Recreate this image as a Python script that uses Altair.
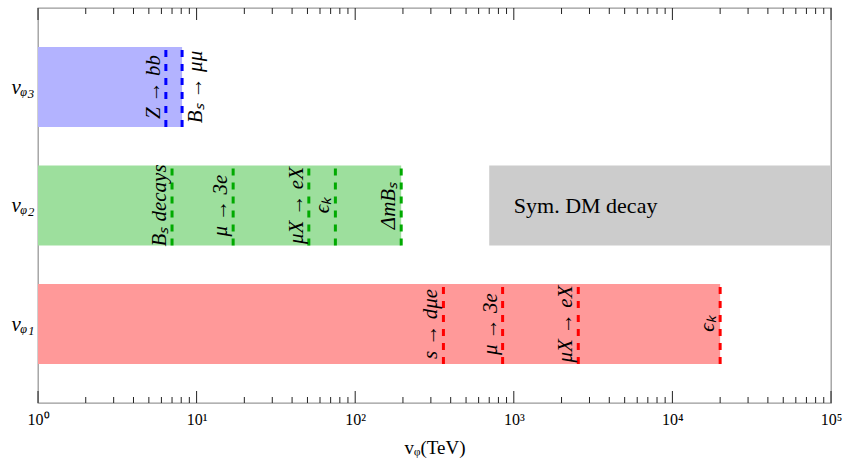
import altair as alt
import pandas as pd

# --- data -------------------------------------------------------------------
# vev rows (y position) and their axis labels
ROWS = [1, 2, 3]
ROW_LABELS = ["vᵩ₁", "vᵩ₂", "vᵩ₃"]

# excluded ranges of each vev (TeV)
band_key = ["phi3", "phi2", "phi1", "dm"]
band_row = [3, 2, 1, 2]
band_lo = [1, 1, 1, 700]
band_hi = [8.1, 195, 20000, 100000]

# individual constraints: row, bound (TeV), label, which side of the line
line_key = ["phi3", "phi3",
            "phi2", "phi2", "phi2", "phi2", "phi2",
            "phi1", "phi1", "phi1", "phi1"]
line_row = [3, 3, 2, 2, 2, 2, 2, 1, 1, 1, 1]
line_x = [6.4, 8.1,
          7.0, 17, 51, 75, 195,
          360, 850, 2550, 20000]
line_text = ["Z → bb", "Bₛ → μμ",
             "Bₛ decays", "μ → 3e", "μX → eX", "ϵₖ", "ΔmBₛ",
             "s → dμe", "μ → 3e", "μX → eX", "ϵₖ"]
line_side = ["left", "right",
             "left", "left", "left", "left", "left",
             "left", "left", "left", "left"]

DM_TEXT = "Sym. DM decay"
DM_TEXT_AT = 1000
DM_ROW = 2

# tick positions on the log axis
DECADES = [1, 10, 100, 1000, 10000, 100000]
MAJOR = DECADES
MINOR = [d * k for d in DECADES[:-1] for k in range(2, 10)]

# --- styling ----------------------------------------------------------------
FILL_DOMAIN = ["phi3", "phi2", "phi1", "dm"]
FILL_RANGE = ["#b3b3ff", "#9ddf9d", "#ff9999", "#cccccc"]
LINE_DOMAIN = ["phi3", "phi2", "phi1"]
LINE_RANGE = ["#0000ff", "#00aa00", "#ff0000"]
HALF = 0.3375          # half height of a band in row units
SERIF = "Liberation Serif"
PLOT_W, PLOT_H = 793, 395
Y_MIN, Y_MAX = 1 / 3, 11 / 3
PX = PLOT_H / (Y_MAX - Y_MIN)   # pixels per row unit
MAJOR_LEN, MINOR_LEN = 12, 6    # tick lengths in pixels
TICK_COLOR = "#222"

bands = pd.DataFrame({"key": band_key, "row": band_row,
                      "lo": band_lo, "hi": band_hi})
lines = pd.DataFrame({"key": line_key, "row": line_row, "x": line_x,
                      "text": line_text, "side": line_side})
dm = pd.DataFrame({"x": [DM_TEXT_AT], "row": [DM_ROW], "text": [DM_TEXT]})


def edge_ticks(at_top):
    # one table per frame edge: tick value and its extent in row units
    xs = MAJOR + MINOR
    lens = [MAJOR_LEN] * len(MAJOR) + [MINOR_LEN] * len(MINOR)
    edge = Y_MAX if at_top else Y_MIN
    sign = -1 if at_top else 1
    return pd.DataFrame({
        "tx": xs,
        "edge": [edge] * len(xs),
        "tip": [edge + sign * n / PX for n in lens],
        "side": ["top" if at_top else "bottom"] * len(xs),
    })


xscale = alt.Scale(type="log", domain=[1, 100000], nice=False)
yscale = alt.Scale(domain=[Y_MIN, Y_MAX], nice=False, zero=False, padding=0)

SUPER = "['⁰','¹','²','³','⁴','⁵']"

# one shared x axis (labels + title); the inward ticks are drawn as rules
x_axis = alt.Axis(
    orient="bottom", values=MAJOR, title="vᵩ(TeV)",
    labelExpr=f"'10' + {SUPER}[round(log(datum.value)/LN10)]",
    ticks=False, tickSize=0, domain=False, grid=False,
    labelFont=SERIF, labelFontSize=16, labelColor="#000", labelPadding=8,
    labelFlush=False, labelOverlap=False, labelBound=False,
    titleFont=SERIF, titleFontSize=19, titleFontWeight="normal",
    titleColor="#000", titlePadding=11,
)

y_axis = alt.Axis(
    orient="left", values=ROWS, title=None, ticks=False, tickSize=0,
    domain=False, grid=False,
    labelExpr="datum.value == 1 ? '" + ROW_LABELS[0] + "' : datum.value == 2 ? '"
    + ROW_LABELS[1] + "' : '" + ROW_LABELS[2] + "'",
    labelFont=SERIF, labelFontSize=21, labelFontStyle="italic",
    labelColor="#000", labelPadding=4, labelOverlap=False, labelBound=False,
)

X = dict(scale=xscale, axis=x_axis)
Y = dict(scale=yscale, axis=y_axis)

band_layer = alt.Chart(bands).mark_bar(size=80, opacity=1).encode(
    x=alt.X("lo:Q", **X),
    x2="hi:Q",
    y=alt.Y("row:Q", **Y),
    color=alt.Color("key:N", scale=alt.Scale(domain=FILL_DOMAIN, range=FILL_RANGE),
                    legend=None),
)

rule_layer = alt.Chart(lines).transform_calculate(
    y0=f"datum.row - {HALF}", y1=f"datum.row + {HALF}"
).mark_rule(strokeWidth=3, strokeDash=[7, 7]).encode(
    x=alt.X("x:Q", **X),
    y=alt.Y("y0:Q", **Y),
    y2="y1:Q",
    stroke=alt.Stroke("key:N", scale=alt.Scale(domain=LINE_DOMAIN, range=LINE_RANGE),
                      legend=None),
)

left_text = alt.Chart(lines).transform_filter("datum.side == 'left'").mark_text(
    angle=270, align="center", baseline="bottom", font=SERIF, fontSize=21,
    fontStyle="italic", color="#000", dy=-2
).encode(
    x=alt.X("x:Q", **X),
    y=alt.Y("row:Q", **Y),
    text="text:N",
)

right_text = alt.Chart(lines).transform_filter("datum.side == 'right'").mark_text(
    angle=270, align="center", baseline="top", font=SERIF, fontSize=21,
    fontStyle="italic", color="#000", dy=3
).encode(
    x=alt.X("x:Q", **X),
    y=alt.Y("row:Q", **Y),
    text="text:N",
)

dm_text = alt.Chart(dm).mark_text(
    align="left", baseline="middle", font=SERIF, fontSize=22, color="#000"
).encode(
    x=alt.X("x:Q", **X),
    y=alt.Y("row:Q", **Y),
    text="text:N",
)

tick_layers = [
    alt.Chart(edge_ticks(top)).mark_rule(strokeWidth=1, color=TICK_COLOR).encode(
        x=alt.X("tx:Q", **X), y=alt.Y("edge:Q", **Y), y2="tip:Q"
    )
    for top in (True, False)
]

chart = alt.layer(band_layer, rule_layer, left_text, right_text, dm_text,
                  *tick_layers).properties(
    width=PLOT_W, height=PLOT_H,
    autosize=alt.AutoSizeParams(type="none"),
    padding={"left": 38, "top": 8, "right": 18, "bottom": 69},
).configure_view(stroke="#999", strokeWidth=1.3)

chart.save("out.html", embed_options={"renderer": "svg", "actions": False})
